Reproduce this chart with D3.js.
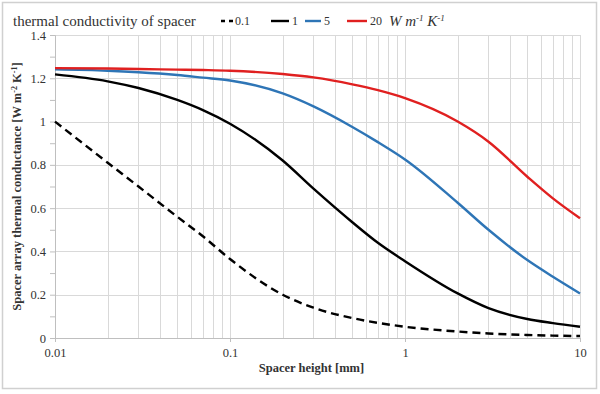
<!DOCTYPE html>
<meta charset="utf-8">
<style>
body { margin: 0; background: #fff; }
text { font-family: "Liberation Serif", "Times New Roman", serif; fill: #333; }
.grid line { stroke: #d9d9d9; stroke-width: 1; }
.line { fill: none; stroke-width: 2.4px; }
</style>
<body>
<div id="chart"></div>
<script src="https://d3js.org/d3.v7.min.js"></script>
<script>
// spacer heights [mm]
var heights = [0.01, 0.02, 0.03, 0.05, 0.07, 0.1, 0.2, 0.3, 0.5, 0.7, 1, 2, 3, 5, 7, 10];
// conductance for each spacer conductivity
var k01 = [1.0, 0.81, 0.70, 0.56, 0.47, 0.365, 0.2, 0.14, 0.092, 0.07, 0.052, 0.03, 0.021, 0.014, 0.011, 0.009];
var k1  = [1.218, 1.186, 1.155, 1.1, 1.053, 0.99, 0.82, 0.69, 0.535, 0.44, 0.355, 0.206, 0.138, 0.088, 0.069, 0.052];
var k5  = [1.241, 1.235, 1.228, 1.215, 1.203, 1.19, 1.13, 1.07, 0.975, 0.905, 0.825, 0.625, 0.5, 0.36, 0.283, 0.206];
var k20 = [1.247, 1.245, 1.243, 1.24, 1.238, 1.235, 1.22, 1.204, 1.172, 1.145, 1.108, 1.0, 0.907, 0.745, 0.645, 0.553];
var seriesNames = ["0.1", "1", "5", "20"];
var yTicks = [0, 0.2, 0.4, 0.6, 0.8, 1, 1.2, 1.4];
var xTicks = [0.01, 0.1, 1, 10];

var W = 600, H = 394;
var margin = {top: 35, right: 20, bottom: 56, left: 55};
var width = W - margin.left - margin.right;
var height = H - margin.top - margin.bottom;

var x = d3.scaleLog().domain([0.01, 10]).range([0, width]);
var y = d3.scaleLinear().domain([0, 1.4]).range([height, 0]);

var svg = d3.select("#chart").append("svg")
    .attr("width", W).attr("height", H);

// outer frame
svg.append("rect")
    .attr("x", 2.5).attr("y", 2.5)
    .attr("width", 594).attr("height", 386)
    .attr("fill", "none").attr("stroke", "#d0d0d0").attr("stroke-width", 1.5);

var g = svg.append("g")
    .attr("transform", "translate(" + margin.left + "," + margin.top + ")");

// vertical log grid
var minor = [];
[0.01, 0.1, 1].forEach(function(d) {
    for (var i = 2; i <= 10; i++) minor.push(d * i);
});
g.append("g").attr("class", "grid")
  .selectAll("line").data(minor).enter().append("line")
    .attr("x1", function(d) { return Math.round(x(d)) + 0.5; })
    .attr("x2", function(d) { return Math.round(x(d)) + 0.5; })
    .attr("y1", 0).attr("y2", height);

// horizontal grid
g.append("g").attr("class", "grid")
  .selectAll("line").data(yTicks.slice(1)).enter().append("line")
    .attr("x1", 0).attr("x2", width)
    .attr("y1", function(d) { return Math.round(y(d)) + 0.5; })
    .attr("y2", function(d) { return Math.round(y(d)) + 0.5; });

// y axis
var yAxis = g.append("g")
    .attr("font-family", "Liberation Serif")
    .call(d3.axisLeft(y).tickValues(d3.range(0, 1.41, 0.1)).tickSize(5)
        .tickFormat(function(d) { return yTicks.some(function(t) { return Math.abs(t - d) < 1e-6; }) ? d3.format("")(+d.toFixed(1)) : ""; }));
yAxis.attr("font-family", "Liberation Serif");
yAxis.select(".domain").attr("stroke", "#bfbfbf");
yAxis.selectAll(".tick line").attr("stroke", "#bfbfbf");
yAxis.selectAll(".tick text").attr("x", -9)
    .style("font-size", "12.5px").style("font-family", "Liberation Serif").attr("fill", "#333");

// x axis
var xAxis = g.append("g")
    .attr("transform", "translate(0," + height + ")")
    .call(d3.axisBottom(x).tickValues(xTicks).tickSize(4).tickFormat(d3.format("")));
xAxis.attr("font-family", "Liberation Serif");
xAxis.select(".domain").attr("stroke", "#bfbfbf");
xAxis.selectAll(".tick line").attr("stroke", "#bfbfbf");
xAxis.selectAll(".tick text").attr("y", 10)
    .style("font-size", "12.5px").style("font-family", "Liberation Serif").attr("fill", "#333");

// lines
var line = d3.line()
    .curve(d3.curveMonotoneX)
    .x(function(d) { return x(d[0]); })
    .y(function(d) { return y(d[1]); });

var series = [
    {name: seriesNames[0], values: k01, color: "#000", dash: "8,5"},
    {name: seriesNames[1], values: k1, color: "#000", dash: null},
    {name: seriesNames[2], values: k5, color: "#2e75b6", dash: null},
    {name: seriesNames[3], values: k20, color: "#e02020", dash: null}
];

series.forEach(function(s) {
    g.append("path")
        .datum(heights.map(function(h, i) { return [h, s.values[i]]; }))
        .attr("class", "line")
        .attr("stroke", s.color)
        .attr("stroke-dasharray", s.dash)
        .attr("d", line);
});

// axis titles
svg.append("text")
    .attr("x", margin.left + width / 2 - 6).attr("y", 372)
    .attr("text-anchor", "middle")
    .attr("font-weight", "bold")
    .style("font-size", "12.5px")
    .text("Spacer height [mm]");

var yt = svg.append("text")
    .attr("transform", "translate(21," + (margin.top + height / 2) + ") rotate(-90)")
    .attr("text-anchor", "middle")
    .attr("font-weight", "bold")
    .style("font-size", "12.5px");
yt.append("tspan").text("Spacer array thermal conductance [W m");
yt.append("tspan").attr("dy", -4).style("font-size", "8px").text("-2");
yt.append("tspan").attr("dy", 4).text(" K");
yt.append("tspan").attr("dy", -4).style("font-size", "8px").text("-1");
yt.append("tspan").attr("dy", 4).text("]");

// legend
var lg = svg.append("g").attr("transform", "translate(0,21)");
lg.append("text").attr("x", 13).attr("y", 5)
    .style("font-size", "15px").text("thermal conductivity of spacer");

var legendPos = [
    {x1: 221, x2: 233, tx: 235},
    {x1: 271, x2: 289, tx: 292},
    {x1: 305, x2: 321, tx: 324},
    {x1: 347, x2: 367, tx: 370}
];
series.forEach(function(s, i) {
    var p = legendPos[i];
    lg.append("line")
        .attr("x1", p.x1).attr("x2", p.x2).attr("y1", 0).attr("y2", 0)
        .attr("stroke", s.color).attr("stroke-width", 2.4)
        .attr("stroke-dasharray", s.dash ? "4,4" : null);
    lg.append("text").attr("x", p.tx).attr("y", 4)
        .style("font-size", "12px").text(s.name);
});
var unit = lg.append("text").attr("x", 389).attr("y", 5)
    .style("font-size", "15px").style("font-style", "italic");
unit.append("tspan").text("W m");
unit.append("tspan").attr("dy", -5).style("font-size", "9px").text("-1");
unit.append("tspan").attr("dy", 5).text(" K");
unit.append("tspan").attr("dy", -5).style("font-size", "9px").text("-1");
</script>
</body>
